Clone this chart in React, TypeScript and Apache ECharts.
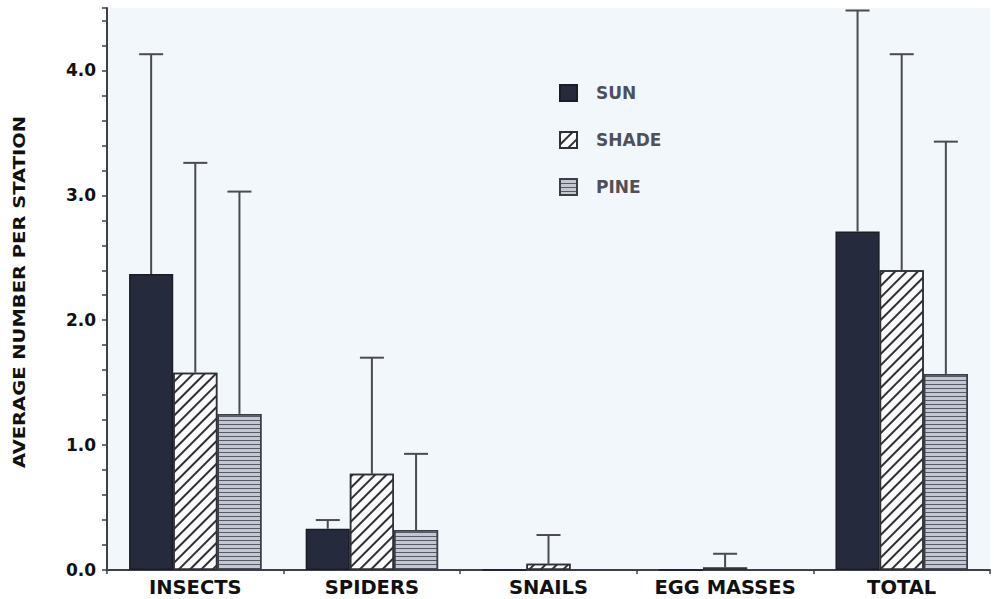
import React, { useEffect, useRef } from "react";
import * as echarts from "echarts";

// Categories and groups
const categories = ["INSECTS", "SPIDERS", "SNAILS", "EGG MASSES", "TOTAL"];
const groups = ["SUN", "SHADE", "PINE"];

// Mean counts per station and the tops of their error bars
const sunMeans = [2.37, 0.33, 0, 0, 2.71];
const sunUpper = [4.13, 0.4, null, null, 4.48];
const shadeMeans = [1.58, 0.77, 0.05, 0.02, 2.4];
const shadeUpper = [3.26, 1.7, 0.28, 0.13, 4.13];
const pineMeans = [1.25, 0.32, 0, 0, 1.57];
const pineUpper = [3.03, 0.93, null, null, 3.43];

const yMin = 0;
const yMax = 4.5;
const yStep = 0.2;
const yTitle = "AVERAGE NUMBER PER STATION";

const FONT = '"DejaVu Sans", "Liberation Sans", Arial, sans-serif';
const AXIS = "#3f3f46";
const CAT_GAP = 0.25;

const barStyles = [
  { color: "#252a3d", borderColor: "#1c1d24", borderWidth: 1.5 },
  {
    color: "#fbfbfb",
    borderColor: "#2f3036",
    borderWidth: 1.5,
    decal: {
      symbol: "rect",
      symbolSize: 1,
      dashArrayX: [1, 0],
      dashArrayY: [1.3, 5.4],
      rotation: -Math.PI / 4,
      color: "#2f3036",
    },
  },
  {
    color: "#c4c7d0",
    borderColor: "#3c3e46",
    borderWidth: 1.5,
    decal: {
      symbol: "rect",
      symbolSize: 1,
      dashArrayX: [1, 0],
      dashArrayY: [1, 2.2],
      rotation: 0,
      color: "#555a68",
    },
  },
];

const means = [sunMeans, shadeMeans, pineMeans];
const uppers = [sunUpper, shadeUpper, pineUpper];

function errorSeries(g: number) {
  const data = categories
    .map((_, i) => [i, means[g][i], uppers[g][i]])
    .filter((d) => d[2] !== null);
  return {
    type: "custom",
    name: "err-" + groups[g],
    z: 5,
    silent: true,
    encode: { x: 0, y: 2 },
    data,
    renderItem: (params: any, api: any) => {
      const cat = api.value(0);
      const band = api.size([1, 0])[0];
      const barW = (band * (1 - CAT_GAP)) / 3;
      const cx = api.coord([cat, 0])[0] + (g - 1) * barW;
      const yTop = api.coord([cat, api.value(1)])[1];
      const yErr = api.coord([cat, api.value(2)])[1];
      const half = 12;
      const style = { stroke: "#4a4a50", lineWidth: 2 };
      return {
        type: "group",
        children: [
          { type: "line", shape: { x1: cx, y1: yTop, x2: cx, y2: yErr }, style },
          { type: "line", shape: { x1: cx - half, y1: yErr, x2: cx + half, y2: yErr }, style },
        ],
      };
    },
  };
}

export default function App() {
  const ref = useRef<HTMLDivElement>(null);

  useEffect(() => {
    if (!ref.current) return;
    const chart = echarts.init(ref.current, undefined, { renderer: "svg" });

    const barSeries = groups.map((name, g) => ({
      type: "bar",
      name,
      data: means[g],
      barGap: "0%",
      barCategoryGap: CAT_GAP * 100 + "%",
      itemStyle: barStyles[g],
      z: 2,
    }));

    chart.setOption({
      animation: false,
      backgroundColor: "#ffffff",
      textStyle: { fontFamily: FONT },
      grid: {
        left: 107,
        right: 4,
        top: 8,
        bottom: 29,
        show: true,
        backgroundColor: "#f2f7fb",
        borderWidth: 0,
      },
      legend: {
        data: groups,
        orient: "vertical",
        left: 554,
        top: 79,
        icon: "rect",
        itemWidth: 17,
        itemHeight: 16,
        itemGap: 29,
        selectedMode: false,
        textStyle: {
          fontFamily: FONT,
          fontWeight: "bold",
          fontSize: 17,
          color: "#4f505a",
          padding: [0, 0, 0, 14],
        },
      },
      xAxis: {
        type: "category",
        data: categories,
        axisLine: { lineStyle: { color: AXIS, width: 2 } },
        axisTick: { show: true, length: 4, lineStyle: { color: AXIS, width: 1.5 } },
        axisLabel: {
          interval: 0,
          margin: 8,
          lineHeight: 19,
          fontFamily: FONT,
          fontWeight: "bold",
          fontSize: 19.5,
          color: "#111111",
        },
        splitLine: { show: false },
      },
      yAxis: {
        type: "value",
        min: yMin,
        max: yMax,
        interval: yStep,
        axisLine: { show: true, lineStyle: { color: AXIS, width: 2 } },
        axisTick: { show: true, length: 5, lineStyle: { color: AXIS, width: 1.5 } },
        axisLabel: {
          margin: 11,
          fontFamily: FONT,
          fontWeight: "bold",
          fontSize: 17,
          color: "#111111",
          formatter: (v: number) =>
            Math.abs(v - Math.round(v)) < 1e-6 ? v.toFixed(1) : "",
        },
        splitLine: { show: false },
      },
      graphic: [
        {
          type: "text",
          x: 19,
          y: 292,
          rotation: Math.PI / 2,
          scaleX: 1.22,
          style: {
            text: yTitle,
            fontFamily: FONT,
            fontWeight: "bold",
            fontSize: 16,
            fill: "#111111",
            align: "center",
            verticalAlign: "middle",
          },
        },
      ],
      series: [...barSeries, ...groups.map((_, g) => errorSeries(g))],
    });

    return () => chart.dispose();
  }, []);

  return (
    <div
      ref={ref}
      style={{ position: "absolute", left: 0, top: 0, width: 994, height: 599 }}
    />
  );
}
